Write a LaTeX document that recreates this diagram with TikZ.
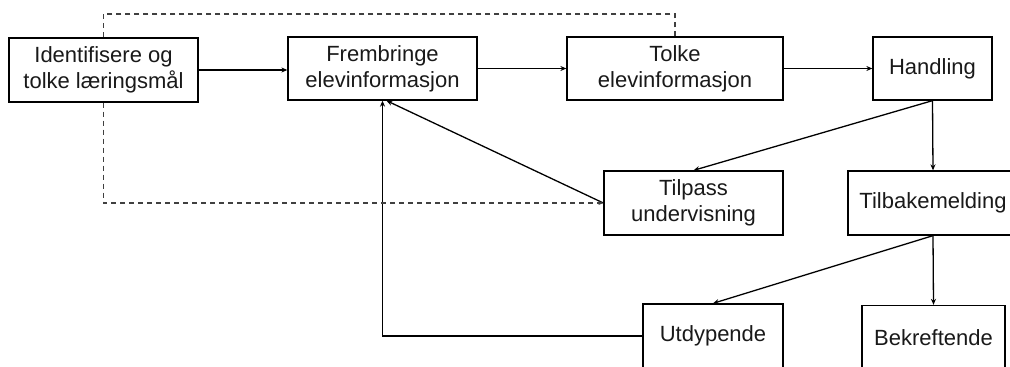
\documentclass[tikz,border=0pt]{standalone}
\usepackage{fontspec}
\setmainfont{Liberation Sans}
\usetikzlibrary{arrows.meta}
\begin{document}
\begin{tikzpicture}[x=1pt,y=-1pt,
  box/.style={draw, line width=1.3pt, align=center, inner sep=0pt,
              text=black!90, font=\fontsize{22}{26}\selectfont},
  link/.style={line width=1.3pt, -{Stealth[length=6pt,width=5pt]}},
  loopline/.style={line width=1.3pt, black!75, dash pattern=on 5pt off 4pt}]
\useasboundingbox (0,0) rectangle (1010,367);
\clip (0,0) rectangle (1010,367);

% process boxes
\node[box, minimum width=189pt, minimum height=64pt] (ident) at (103.5,70)
  {Identifisere og\\tolke læringsmål};
\node[box, minimum width=189pt, minimum height=63pt] (frem) at (382.5,68.5)
  {Frembringe\\elevinformasjon};
\node[box, minimum width=216pt, minimum height=63pt] (tolke) at (675,68.5)
  {Tolke\\elevinformasjon};
\node[box, minimum width=119pt, minimum height=63pt] (handling) at (932.5,68.5)
  {Handling};
\node[box, minimum width=179pt, minimum height=64pt] (tilpass) at (693.5,203)
  {Tilpass\\undervisning};
\node[box, minimum width=170pt, minimum height=64pt] (tilbake) at (933,203)
  {Tilbakemelding};
\node[box, minimum width=140pt, minimum height=64pt] (utdyp) at (713,336)
  {Utdypende};
\node[box, minimum width=143pt, minimum height=64pt] (bekr) at (933.5,337.5)
  {Bekreftende};

% main flow
\draw[link] (ident.east) -- (frem.west |- ident.east);
\draw[link] (frem) -- (tolke);
\draw[link] (tolke) -- (handling);
\draw[link] (handling.south) -- (tilpass.north);
\draw[link] (handling.south) -- (tilbake.north);
\draw[link] (tilbake.south) -- (utdyp.north);
\draw[link] (tilbake.south) -- (bekr.north);

% feedback back to gathering information
\draw[link] (tilpass.west) -- ([xshift=4pt]frem.south);
\draw[link] (utdyp.west) -| (frem.south);

% dashed loop through the learning goals
\coordinate (looptop) at (0,14);
\draw[loopline] (tolke.north) -- (tolke.north |- looptop) -| (ident.north);
\draw[loopline, -{Stealth[length=5pt,width=4pt]}] (ident.south) |- (tilpass.west);
\end{tikzpicture}
\end{document}
